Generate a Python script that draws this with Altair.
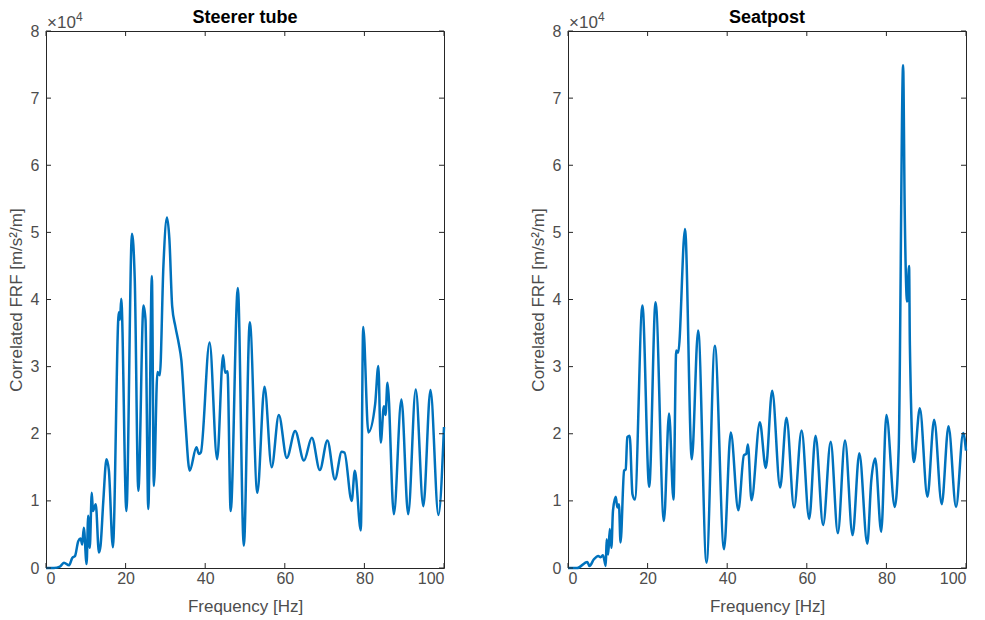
import altair as alt
import pandas as pd

# Correlated FRF magnitude (x 10^4 m/s^2/m) against frequency (Hz)
steer_freq = [0, 2.0, 3.5, 4.5, 5.8, 6.6, 7.3, 8.1, 8.7, 9.1, 9.5, 10.2, 10.6, 11.0,
              11.5, 11.8, 12.5, 13.3, 13.7, 14.4, 15.2, 15.8, 16.8, 18.3, 18.6, 18.9,
              20.2, 21.6, 22.3, 23.2, 24.5, 25.0, 25.7, 26.6, 27.1, 28.0, 28.6, 29.5,
              30.4, 31.0, 31.7, 32.5, 33.4, 34.0, 35.0, 36.1, 37.8, 38.4, 38.9, 41.1,
              43.0, 44.5, 45.0, 45.6, 46.4, 48.2, 49.7, 51.2, 53.1, 54.9, 56.7, 58.5,
              60.5, 62.6, 64.8, 66.8, 68.8, 70.7, 72.6, 74.3, 75.0, 76.8, 77.6, 79.1,
              79.7, 81.0, 82.7, 83.5, 84.1, 84.9, 85.3, 85.8, 87.4, 89.3, 91.0, 92.9,
              94.8, 96.6, 98.6, 100]
steer_frf = [0, 0, 0.02, 0.08, 0.04, 0.15, 0.18, 0.40, 0.44, 0.35, 0.60, 0.06, 0.78, 0.30,
             1.12, 0.85, 0.95, 0.23, 0.33, 1.00, 1.62, 1.45, 0.31, 3.81, 3.70, 4.01,
             0.85, 4.98, 4.30, 1.15, 3.91, 3.70, 0.88, 4.35, 1.22, 2.92, 2.87, 4.50,
             5.22, 4.90, 3.90, 3.60, 3.33, 3.10, 2.20, 1.45, 1.80, 1.70, 1.72, 3.36,
             1.62, 3.17, 2.91, 2.93, 0.85, 4.17, 0.33, 3.66, 1.12, 2.70, 1.50, 2.28,
             1.64, 2.04, 1.60, 1.94, 1.46, 1.90, 1.32, 1.73, 1.72, 1.00, 1.45, 0.56,
             3.59, 2.02, 2.44, 3.01, 1.87, 2.41, 2.28, 2.76, 0.80, 2.51, 0.80, 2.66,
             0.92, 2.65, 0.79, 2.10]

seat_freq = [0, 2.3, 4.85, 5.4, 6.5, 7.6, 8.2, 8.8, 9.5, 9.7, 10.1, 10.5, 10.9, 11.3,
             12.0, 12.4, 12.8, 13.2, 14.1, 14.5, 14.9, 15.5, 16.2, 16.8, 18.7, 20.4,
             22.0, 24.1, 25.4, 26.5, 27.2, 27.7, 29.4, 31.1, 32.7, 34.8, 36.9, 39.2,
             40.9, 42.8, 44.2, 44.8, 45.2, 46.1, 48.2, 49.7, 51.3, 53.3, 54.9, 56.8,
             58.7, 60.6, 62.2, 64.1, 66.0, 67.8, 69.6, 71.5, 73.2, 75.2, 76.2, 77.2,
             78.7, 80.0, 82.1, 83.1, 84.2, 84.6, 85.2, 85.7, 85.9, 86.9, 88.4, 90.3,
             92.0, 93.9, 95.6, 97.5, 99.3, 100]
seat_frf = [0, 0, 0.09, 0.03, 0.13, 0.18, 0.16, 0.19, 0.03, 0.43, 0.20, 0.58, 0.30, 0.85,
            1.06, 0.90, 0.95, 0.38, 1.45, 1.47, 1.95, 1.97, 1.10, 1.02, 3.91, 1.21,
            3.96, 0.70, 2.30, 1.02, 3.24, 3.21, 5.05, 1.62, 3.54, 0.08, 3.31, 0.28,
            2.02, 0.86, 1.68, 1.70, 1.84, 1.01, 2.17, 1.49, 2.64, 1.20, 2.24, 0.90,
            2.05, 0.73, 1.97, 0.64, 1.88, 0.52, 1.90, 0.49, 1.71, 0.36, 1.30, 1.63,
            0.54, 2.28, 0.91, 1.80, 7.49, 5.33, 3.97, 4.50, 3.32, 1.58, 2.38, 1.06,
            2.21, 0.95, 2.11, 0.91, 2.01, 1.75]

x_ticks = [0, 20, 40, 60, 80, 100]
y_ticks = [0, 1, 2, 3, 4, 5, 6, 7, 8]

BLUE = "#0072BD"
AXIS = "#262626"
LABEL = "#4D4D4D"
FONT = "Liberation Sans"
W, H = 398, 537
TICK = 5

axis_style = dict(
    ticks=False, domain=False, grid=False, format="d",
    labelFont=FONT, titleFont=FONT, labelFontSize=16, titleFontSize=17,
    labelColor=LABEL, titleColor=LABEL, titleFontWeight="normal",
)


def panel(freq, frf, title):
    df = pd.DataFrame({"f": freq, "v": frf})
    x_enc = alt.X(
        "f:Q",
        scale=alt.Scale(domain=[0, 100], nice=False),
        axis=alt.Axis(values=x_ticks, title="Frequency [Hz]", labelPadding=2,
                      titlePadding=12, **axis_style),
    )
    y_enc = alt.Y(
        "v:Q",
        scale=alt.Scale(domain=[0, 8], nice=False),
        axis=alt.Axis(values=y_ticks, title="Correlated FRF [m/s²/m]", labelPadding=7,
                      titlePadding=5, **axis_style),
    )
    line = alt.Chart(df).mark_line(color=BLUE, strokeWidth=2.5, interpolate="monotone").encode(
        x=x_enc, y=y_enc
    )

    xt = pd.DataFrame({"f": x_ticks})
    yt = pd.DataFrame({"v": y_ticks})
    rule = dict(color=AXIS, strokeWidth=1)
    bottom = alt.Chart(xt).mark_rule(**rule).encode(
        x="f:Q", y=alt.value(H), y2=alt.value(H - TICK))
    top = alt.Chart(xt).mark_rule(**rule).encode(
        x="f:Q", y=alt.value(0), y2=alt.value(TICK))
    left = alt.Chart(yt).mark_rule(**rule).encode(
        y="v:Q", x=alt.value(0), x2=alt.value(TICK))
    right = alt.Chart(yt).mark_rule(**rule).encode(
        y="v:Q", x=alt.value(W), x2=alt.value(W - TICK))

    # exponent multiplier above the y axis
    base = alt.Chart(pd.DataFrame({"t": [0]}))
    times = base.mark_text(font=FONT, fontSize=17, color=LABEL, align="left",
                           baseline="alphabetic").encode(
        x=alt.value(1), y=alt.value(-3), text=alt.value("×10"))
    power = base.mark_text(font=FONT, fontSize=12, color=LABEL, align="left",
                           baseline="alphabetic").encode(
        x=alt.value(30), y=alt.value(-10), text=alt.value("4"))

    return alt.layer(line, bottom, top, left, right, times, power).properties(
        width=W, height=H,
        title=alt.TitleParams(title, fontSize=18, fontWeight="bold", font=FONT,
                              color="#000000", offset=-16),
    )


chart = alt.hconcat(
    panel(steer_freq, steer_frf, "Steerer tube"),
    panel(seat_freq, seat_frf, "Seatpost"),
    spacing=78,
).properties(
    padding={"left": 6, "top": 8, "right": 5, "bottom": 5},
    background="white",
).configure_view(
    stroke=AXIS, strokeWidth=1
)

chart.save("out.html", embed_options={"renderer": "svg", "actions": False})
